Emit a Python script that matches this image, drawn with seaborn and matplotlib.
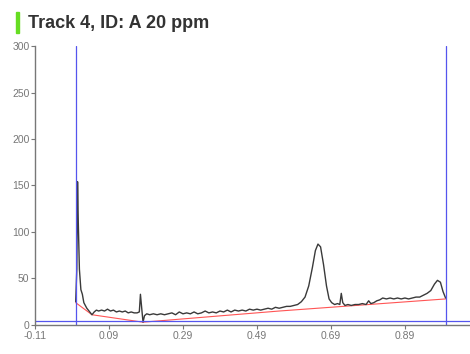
import matplotlib.pyplot as plt
import seaborn as sns
import pandas as pd

# chromatogram trace (Rf vs. signal)
trace_x = [0.000, 0.003, 0.005, 0.007, 0.010, 0.014, 0.018, 0.022, 0.030, 0.038,
           0.044, 0.050, 0.056, 0.062, 0.070, 0.078, 0.086, 0.094, 0.102, 0.110,
           0.118, 0.126, 0.134, 0.142, 0.150, 0.158, 0.166, 0.172, 0.175, 0.178,
           0.182, 0.186, 0.192, 0.200, 0.210, 0.220, 0.230, 0.240, 0.250, 0.260,
           0.270, 0.280, 0.290, 0.300, 0.310, 0.320, 0.330, 0.340, 0.350, 0.360,
           0.370, 0.380, 0.390, 0.400, 0.410, 0.420, 0.430, 0.440, 0.450, 0.460,
           0.470, 0.480, 0.490, 0.500, 0.510, 0.520, 0.530, 0.540, 0.550, 0.560,
           0.570, 0.580, 0.590, 0.600, 0.610, 0.620, 0.630, 0.640, 0.648, 0.655,
           0.662, 0.670, 0.678, 0.685, 0.692, 0.700, 0.708, 0.714, 0.718, 0.722,
           0.728, 0.736, 0.745, 0.755, 0.765, 0.775, 0.785, 0.792, 0.798, 0.806,
           0.814, 0.822, 0.830, 0.840, 0.850, 0.860, 0.870, 0.880, 0.890, 0.900,
           0.910, 0.920, 0.930, 0.940, 0.950, 0.960, 0.970, 0.978, 0.986, 0.993,
           1.000]
trace_y = [25, 60, 154, 110, 60, 38, 33, 24, 18, 14,
           11, 14, 16, 15, 16, 15, 17, 15, 16, 14,
           15, 14, 15, 13, 14, 13, 13, 14, 33, 20,
           3, 10, 12, 11, 12, 11, 12, 11, 12, 13,
           11, 14, 12, 13, 12, 14, 12, 13, 15, 13,
           14, 13, 15, 14, 16, 14, 16, 15, 16, 15,
           17, 16, 17, 16, 17, 18, 17, 19, 18, 19,
           20, 20, 21, 22, 25, 30, 42, 62, 80, 87,
           84, 65, 42, 28, 24, 22, 23, 22, 34, 24,
           21, 22, 21, 22, 22, 23, 22, 26, 23, 24,
           26, 27, 29, 28, 29, 28, 29, 28, 29, 28,
           29, 30, 30, 32, 34, 37, 44, 48, 46, 36,
           29]

# fitted baseline
base_x = [0.0, 0.044, 0.182, 0.55, 1.0]
base_y = [24, 11, 3, 15, 28]

# integration limits
front_start, front_end = 0.0, 1.0
level = 4

trace = pd.DataFrame({"Rf": trace_x, "signal": trace_y})
baseline = pd.DataFrame({"Rf": base_x, "signal": base_y})

sns.set_style("ticks")
plt.rcParams['font.family'] = ['Liberation Sans', 'DejaVu Sans']

fig = plt.figure(figsize=(4.7, 3.54), dpi=100)
ax = fig.add_axes([0.0745, 0.082, 0.9255, 0.788])

sns.lineplot(data=baseline, x="Rf", y="signal", color="#ff5555", linewidth=0.8, ax=ax)
sns.lineplot(data=trace, x="Rf", y="signal", color="#3a3a3a", linewidth=1.0, ax=ax)
ax.axvline(front_start, color="#5555ee", linewidth=0.9)
ax.axvline(front_end, color="#5555ee", linewidth=0.9)
ax.axhline(level, color="#5555ee", linewidth=0.9)

ax.set_xlim(-0.11, 1.066)
ax.set_ylim(0, 300)
ax.set_xticks([-0.11, 0.09, 0.29, 0.49, 0.69, 0.89])
ax.set_xticklabels(["-0.11", "0.09", "0.29", "0.49", "0.69", "0.89"])
ax.set_yticks([0, 50, 100, 150, 200, 250, 300])
ax.tick_params(labelsize=7.5, colors="#777777", length=3, width=0.8, pad=1)
ax.set_xlabel("")
ax.set_ylabel("")
sns.despine(ax=ax)
for s in ("left", "bottom"):
    ax.spines[s].set_color("#777777")
    ax.spines[s].set_linewidth(1)

# title with green marker
fig.patches.append(plt.Rectangle((16 / 470, 1 - 33 / 354), 3 / 470, 21 / 354,
                                 transform=fig.transFigure, color="#66dd22"))
fig.text(28 / 470, 1 - 23 / 354, "Track 4, ID: A 20 ppm", fontsize=13,
         fontweight="bold", color="#333333", va="center", ha="left")

fig.savefig("out.png", dpi=100)
